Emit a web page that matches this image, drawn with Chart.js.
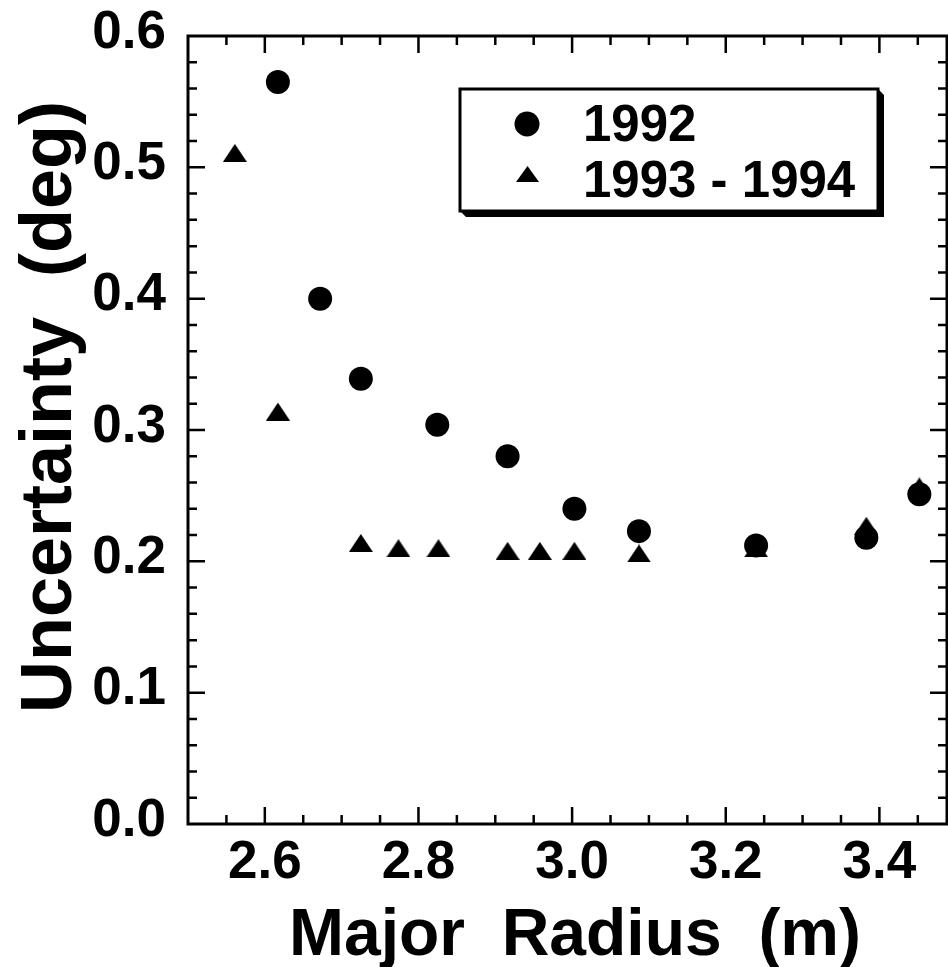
<!DOCTYPE html>
<html>
<head>
<meta charset="utf-8">
<script src="https://cdn.jsdelivr.net/npm/chart.js@4.4.0/dist/chart.umd.min.js"></script>
<style>
  html, body { margin: 0; padding: 0; background: #fff; }
</style>
</head>
<body>
<canvas id="uncertaintyChart" width="948" height="967"></canvas>
<script>
// values
const radius1992 = [2.617, 2.672, 2.725, 2.8245, 2.916, 3.003, 3.087, 3.2395, 3.383, 3.452];
const uncert1992 = [0.565, 0.400, 0.339, 0.304, 0.280, 0.240, 0.223, 0.212, 0.218, 0.251];
const radius9394 = [2.561, 2.617, 2.725, 2.774, 2.826, 2.916, 2.958, 3.003, 3.087, 3.2395, 3.383, 3.452];
const uncert9394 = [0.511, 0.314, 0.214, 0.210, 0.210, 0.208, 0.208, 0.208, 0.206, 0.210, 0.227, 0.257];
const seriesLabels = ['1992', '1993 - 1994'];
const xTitle = 'Major  Radius  (m)';
const yTitle = 'Uncertainty  (deg)';

const FONT = "'Liberation Sans', Arial, Helvetica, sans-serif";

function makeTriangle(w, h) {
    let c = document.createElement('canvas');
    c.width = w;
    c.height = h;
    let g = c.getContext('2d');
    g.fillStyle = '#000';
    g.beginPath();
    g.moveTo(w / 2, 0);
    g.lineTo(w, h);
    g.lineTo(0, h);
    g.closePath();
    g.fill();
    return c;
}

const triangleMark = makeTriangle(24, 18);
const legendTriangle = makeTriangle(23, 16);

function toPoints(xs, ys) {
    return xs.map((x, i) => ({ x: x, y: ys[i] }));
}

function isMajorX(v) { return Math.round(v * 100) % 20 === 0; }
function isMajorY(v) { return Math.round(v * 100) % 10 === 0; }

function noPadding(s) {
    s.paddingTop = 0;
    s.paddingBottom = 0;
    s.paddingLeft = 0;
    s.paddingRight = 0;
}

// ticks on all four sides, pointing inwards, plus the frame
const frameTicks = {
    id: 'frameTicks',
    beforeDatasetsDraw(chart) {
        let ctx = chart.ctx;
        let a = chart.chartArea;
        let xs = chart.scales.x;
        let ys = chart.scales.y;
        ctx.save();
        ctx.strokeStyle = '#000';
        ctx.lineWidth = 2.5;
        ctx.beginPath();
        xs.ticks.forEach(t => {
            let px = xs.getPixelForValue(t.value);
            if (px < a.left + 2 || px > a.right - 2) return;
            let len = isMajorX(t.value) ? 17 : 9;
            ctx.moveTo(px, a.bottom);
            ctx.lineTo(px, a.bottom - len);
            ctx.moveTo(px, a.top);
            ctx.lineTo(px, a.top + len);
        });
        ys.ticks.forEach(t => {
            let py = ys.getPixelForValue(t.value);
            if (py < a.top + 2 || py > a.bottom - 2) return;
            let len = isMajorY(t.value) ? 17 : 9;
            ctx.moveTo(a.left, py);
            ctx.lineTo(a.left + len, py);
            ctx.moveTo(a.right, py);
            ctx.lineTo(a.right - len, py);
        });
        ctx.stroke();
        ctx.lineWidth = 3;
        ctx.strokeRect(a.left, a.top, a.right - a.left, a.bottom - a.top);
        ctx.restore();
    }
};

// boxed legend with a drop shadow, and the two axis titles
const boxLegend = {
    id: 'boxLegend',
    afterDatasetsDraw(chart) {
        let ctx = chart.ctx;
        let a = chart.chartArea;
        let l = a.left + 272, t = a.top + 53, r = a.left + 690, b = a.top + 175;
        let s = 6;
        ctx.save();
        ctx.fillStyle = '#000';
        ctx.beginPath();
        ctx.moveTo(r, t);
        ctx.lineTo(r + s, t + s);
        ctx.lineTo(r + s, b + s);
        ctx.lineTo(l + s, b + s);
        ctx.lineTo(l, b);
        ctx.closePath();
        ctx.fill();
        ctx.fillStyle = '#fff';
        ctx.fillRect(l, t, r - l, b - t);
        ctx.strokeStyle = '#000';
        ctx.lineWidth = 3;
        ctx.strokeRect(l, t, r - l, b - t);

        ctx.fillStyle = '#000';
        ctx.beginPath();
        ctx.arc(l + 67, t + 35, 12.5, 0, Math.PI * 2);
        ctx.fill();
        ctx.drawImage(legendTriangle, l + 56, t + 77);

        ctx.font = 'bold 51px ' + FONT;
        ctx.textBaseline = 'alphabetic';
        ctx.textAlign = 'left';
        ctx.fillText(seriesLabels[0], l + 123, t + 52);
        ctx.fillText(seriesLabels[1], l + 123, t + 108);

        // axis titles
        ctx.font = 'bold 66px ' + FONT;
        ctx.textAlign = 'center';
        ctx.fillText(xTitle, 575, a.bottom + 131);
        ctx.font = 'bold 72px ' + FONT;
        ctx.translate(71, a.top + 371);
        ctx.rotate(-Math.PI / 2);
        ctx.fillText(yTitle, 0, 0);
        ctx.restore();
    }
};

let ctx = document.getElementById('uncertaintyChart');
let chart = new Chart(ctx, {
    type: 'scatter',
    data: {
        datasets: [{
            label: seriesLabels[1],
            data: toPoints(radius9394, uncert9394),
            pointStyle: triangleMark,
            backgroundColor: '#000',
            borderColor: '#000'
        }, {
            label: seriesLabels[0],
            data: toPoints(radius1992, uncert1992),
            pointStyle: 'circle',
            pointRadius: 12,
            backgroundColor: '#000',
            borderColor: '#000',
            borderWidth: 0
        }]
    },
    options: {
        responsive: false,
        animation: false,
        devicePixelRatio: 1,
        layout: { autoPadding: false, padding: { top: 36, right: 1, left: 0, bottom: 0 } },
        plugins: {
            legend: { display: false },
            tooltip: { enabled: false }
        },
        scales: {
            x: {
                type: 'linear',
                min: 2.5,
                max: 3.488,
                grid: { display: false, drawTicks: false },
                border: { display: false },
                ticks: {
                    stepSize: 0.05,
                    includeBounds: false,
                    autoSkip: false,
                    maxRotation: 0,
                    padding: 8,
                    color: '#000',
                    font: { family: FONT, size: 53, weight: 'bold' },
                    callback: v => isMajorX(v) ? v.toFixed(1) : ''
                },
                afterFit: s => { s.height = 143; noPadding(s); }
            },
            y: {
                type: 'linear',
                min: 0,
                max: 0.6,
                grid: { display: false, drawTicks: false },
                border: { display: false },
                ticks: {
                    stepSize: 0.02,
                    autoSkip: false,
                    padding: 22,
                    labelOffset: -3,
                    color: '#000',
                    font: { family: FONT, size: 53, weight: 'bold' },
                    callback: v => isMajorY(v) ? v.toFixed(1) : ''
                },
                afterFit: s => { s.width = 188; noPadding(s); }
            }
        }
    },
    plugins: [frameTicks, boxLegend]
});
</script>
</body>
</html>
